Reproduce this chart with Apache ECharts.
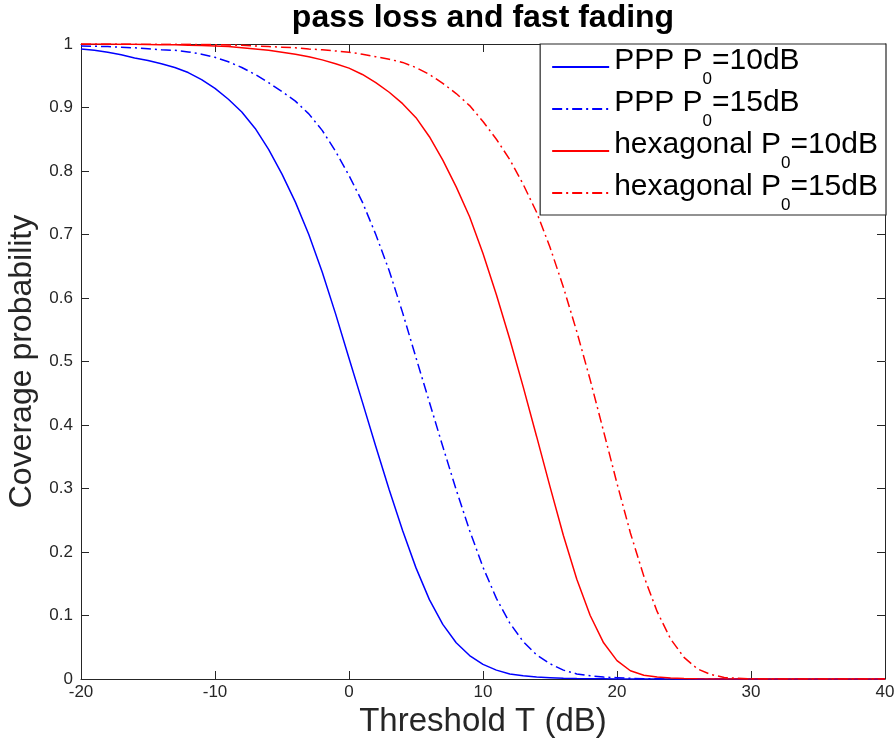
<!DOCTYPE html>
<html>
<head>
<meta charset="utf-8">
<script src="https://cdn.jsdelivr.net/npm/echarts@6/dist/echarts.min.js"></script>
<style>html,body{margin:0;padding:0;background:#fff}#c{width:896px;height:738px}</style>
</head>
<body>
<div id="c"></div>
<script>
const thresholdDb = [-20,-19,-18,-17,-16,-15,-14,-13,-12,-11,-10,-9,-8,-7,-6,-5,-4,-3,-2,-1,0,1,2,3,4,5,6,7,8,9,10,11,12,13,14,15,16,17,18,19,20,21,22,23,24,25,26,27,28,29,30,31,32,33,34,35,36,37,38,39,40];

const pppP10 = [0.992,0.990,0.987,0.983,0.978,0.974,0.969,0.963,0.955,0.944,0.930,0.913,0.893,0.867,0.834,0.795,0.751,0.700,0.641,0.575,0.505,0.436,0.366,0.298,0.234,0.175,0.125,0.086,0.057,0.037,0.023,0.014,0.008,0.005,0.003,0.002,0.001,0.0006,0.0003,0.0002,0.0001,0,0,0,0,0,0,0,0,0,0,0,0,0,0,0,0,0,0,0,0];

const pppP15 = [0.997,0.9965,0.996,0.995,0.994,0.9925,0.991,0.990,0.9875,0.984,0.979,0.972,0.963,0.952,0.939,0.925,0.910,0.890,0.864,0.831,0.793,0.751,0.700,0.643,0.577,0.506,0.436,0.366,0.298,0.234,0.176,0.127,0.088,0.059,0.038,0.024,0.014,0.008,0.005,0.003,0.002,0.001,0.0005,0.0003,0.0001,0,0,0,0,0,0,0,0,0,0,0,0,0,0,0,0];

const hexP10 = [1.000,1.000,1.000,0.9998,0.9996,0.9994,0.999,0.9987,0.998,0.9975,0.997,0.996,0.994,0.992,0.990,0.987,0.984,0.980,0.975,0.969,0.962,0.952,0.939,0.924,0.906,0.884,0.854,0.817,0.775,0.728,0.670,0.605,0.535,0.460,0.382,0.303,0.226,0.157,0.100,0.057,0.029,0.013,0.006,0.003,0.0015,0.0007,0.0003,0.0001,0,0,0,0,0,0,0,0,0,0,0,0,0];

const hexP15 = [1.000,1.000,1.000,1.000,0.9998,0.9997,0.9996,0.9995,0.9995,0.9993,0.999,0.9985,0.998,0.997,0.996,0.995,0.994,0.992,0.991,0.989,0.987,0.984,0.980,0.976,0.971,0.963,0.952,0.938,0.922,0.903,0.878,0.850,0.818,0.779,0.735,0.680,0.617,0.547,0.471,0.390,0.308,0.230,0.162,0.106,0.063,0.034,0.016,0.007,0.0025,0.001,0.0003,0.0001,0,0,0,0,0,0,0,0,0];

const seriesNames = ['PPP P0=10dB','PPP P0=15dB','hexagonal P0=10dB','hexagonal P0=15dB'];
const seriesValues = [pppP10, pppP15, hexP10, hexP15];
const seriesColors = ['#0000ff','#0000ff','#ff0000','#ff0000'];
const seriesDash = ['solid',[10,4,2,4],'solid',[10,4,2,4]];

const xTicks = {min:-20, max:40, interval:10};
const yTicks = {min:0, max:1, interval:0.1};

const FONT = "'Liberation Sans', Arial, Helvetica, sans-serif";
const AX = '#262626';

const chart = echarts.init(document.getElementById('c'), null, {renderer:'canvas'});

const series = seriesNames.map((name, i) => ({
  name: name,
  type: 'line',
  xAxisIndex: 0, yAxisIndex: 0,
  data: thresholdDb.map((t, k) => [t, seriesValues[i][k]]),
  symbol: 'none',
  showSymbol: false,
  smooth: false,
  lineStyle: {color: seriesColors[i], width: 1.5, type: seriesDash[i]},
  itemStyle: {color: seriesColors[i]},
  z: 2
}));

function axisCommon(extra){
  return Object.assign({
    type: 'value',
    axisLine: {show:true, onZero:false, lineStyle:{color:AX, width:1}},
    axisTick: {show:true, inside:true, length:8, lineStyle:{color:AX, width:1}},
    splitLine: {show:false}
  }, extra);
}

chart.setOption({
  animation: false,
  backgroundColor: '#fff',
  title: {
    text: 'pass loss and fast fading',
    left: 483, top: 2, textAlign: 'center',
    padding: 0,
    textStyle: {fontFamily: FONT, fontSize: 32, fontWeight: 'bold', color: '#000'}
  },
  grid: {left: 81, right: 11, top: 44, bottom: 59, containLabel: false, outerBoundsMode: 'none'},
  legend: {
    orient: 'vertical',
    right: 10, top: 44,
    padding: [2, 8, 1, 11],
    itemGap: 0,
    itemWidth: 57, itemHeight: 14,
    borderColor: AX, borderWidth: 1.2,
    backgroundColor: '#fff',
    itemStyle: {opacity: 0},
    data: seriesNames,
    formatter: function(name){
      return '{a|' + name.replace('P0=', 'P}{s|0}{a|=') + '}';
    },
    textStyle: {
      fontFamily: FONT,
      rich: {
        a: {fontFamily: FONT, fontSize: 30, lineHeight: 24, padding: [0,0,12,0], color: '#000'},
        s: {fontFamily: FONT, fontSize: 17, lineHeight: 17, padding: [25,0,0,0], color: '#000'}
      }
    },
    z: 10
  },
  xAxis: [
    axisCommon(Object.assign({
      position: 'bottom',
      name: 'Threshold T (dB)', nameLocation: 'middle', nameGap: 25,
      nameTextStyle: {fontFamily: FONT, fontSize: 33, color: AX},
      axisLabel: {show:true, margin: 5, fontFamily: FONT, fontSize: 17, color: AX}
    }, xTicks)),
    axisCommon(Object.assign({
      position: 'top',
      axisLabel: {show:false}
    }, xTicks))
  ],
  yAxis: [
    axisCommon(Object.assign({
      position: 'left',
      name: 'Coverage probability', nameLocation: 'middle', nameGap: 28,
      nameTextStyle: {fontFamily: FONT, fontSize: 32, color: AX},
      axisLabel: {show:true, margin: 8, fontFamily: FONT, fontSize: 17, color: AX}
    }, yTicks)),
    axisCommon(Object.assign({
      position: 'right',
      axisLabel: {show:false}
    }, yTicks))
  ],
  series: series
});
</script>
</body>
</html>
